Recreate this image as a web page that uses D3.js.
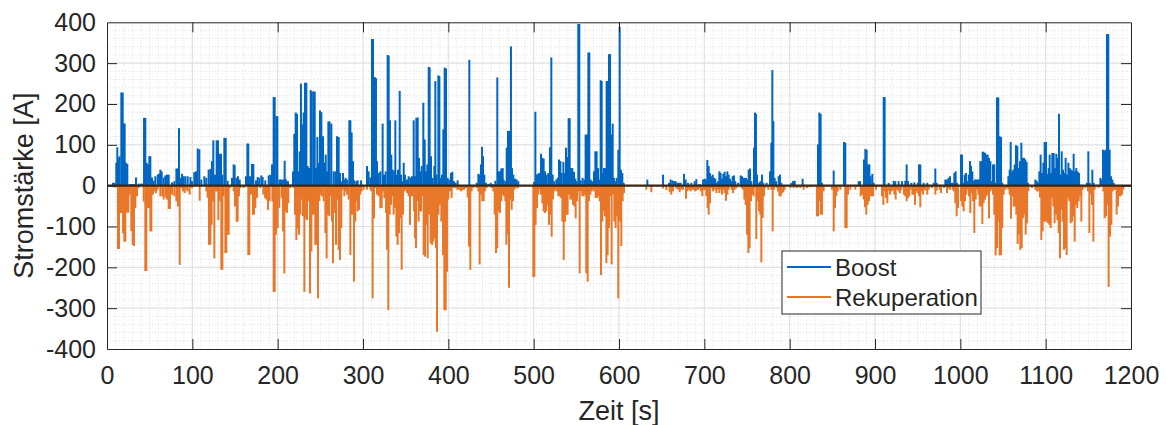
<!DOCTYPE html>
<html>
<head>
<meta charset="utf-8">
<script src="https://cdn.jsdelivr.net/npm/d3@7"></script>
<style>
  body { margin: 0; background: #fff; }
  svg { display: block; }
  text { font-family: "Liberation Sans", Arial, Helvetica, sans-serif; fill: #262626; }
</style>
</head>
<body>
<svg id="chart" width="1166" height="425"></svg>
<script>
// Strommessung: [Zeit in s, Stromstärke in A]
const boost = [[7,7],[8.6,7],[10.9,56],[12.1,94],[13.7,68],[14.8,72],[16.8,228],[18.4,228],[19.5,152],[20.7,152],[22.3,56],[23.8,53],[26.6,4],[29.3,4],[31.3,4],[34,20],[37.1,5],[39.8,5],[42.2,5],[43.4,166],[44.9,166],[46.5,56],[48,52],[49.6,72],[50.8,72],[52.7,20],[54.7,12],[56.6,23],[59.4,27],[60.9,29],[62.5,39],[64.1,35],[66.4,20],[68.4,25],[70.3,27],[72.3,27],[76.2,8],[78.9,11],[81.3,42],[82.8,42],[84.4,141],[85.9,19],[87.9,29],[89.8,23],[91.8,23],[94.5,23],[97.7,21],[99.6,11],[102.3,33],[104.3,35],[106.3,91],[108.2,89],[110.5,15],[114.1,23],[116.4,19],[119.1,39],[121.1,41],[123,60],[124.6,111],[126.6,27],[128.5,111],[130.1,111],[132,78],[133.6,78],[135.2,27],[137.5,117],[139.1,117],[141.4,12],[146.5,19],[148.4,52],[149.6,50],[151.6,19],[153.5,23],[155.5,15],[162.9,23],[164.5,103],[165.6,103],[167.6,23],[169.9,53],[171.5,53],[174.6,13],[176.6,21],[178.5,19],[180.9,25],[182.4,21],[185.5,13],[189.5,25],[191.4,27],[193.4,52],[195.3,217],[196.5,217],[198.4,170],[199.6,170],[202,15],[203.9,15],[206.3,15],[208.2,61],[209.8,15],[212.1,11],[214.8,3],[218,35],[219.5,127],[221.1,179],[222.7,176],[224.2,35],[225.8,84],[227.3,250],[228.9,150],[230.5,179],[232,252],[233.6,252],[235.2,48],[236.7,43],[238.7,234],[239.8,230],[241.8,231],[243.4,230],[244.9,43],[246.5,119],[248,56],[249.6,184],[251.2,180],[253.1,121],[254.7,56],[256.3,76],[257.8,35],[259.4,157],[260.9,157],[262.9,152],[264.1,2],[265.6,35],[267.6,35],[269.5,121],[271.5,119],[273,31],[274.6,11],[276.6,31],[278.1,15],[279.7,19],[281.6,15],[284,160],[285.2,160],[286.7,130],[288.3,60],[289.8,13],[292.2,11],[293.8,13],[295.7,2],[297.7,13],[299.2,2],[304.7,48],[306.6,35],[308.6,20],[310.5,359],[311.7,359],[313.7,266],[315.2,263],[316.4,60],[318.4,31],[320.3,35],[323,152],[324.6,27],[326.6,35],[328.9,320],[330.1,318],[331.6,160],[333.2,76],[334.8,39],[336.7,37],[337.9,160],[339.1,27],[341,39],[343,232],[344.5,27],[346.1,11],[347.7,56],[349.2,27],[351.6,15],[353.5,23],[355.5,20],[357.4,23],[359.4,160],[360.9,23],[362.5,166],[364.1,167],[365.6,68],[367.2,35],[368.8,48],[370.7,203],[372.3,113],[373.8,35],[375.4,52],[377,291],[378.1,289],[379.7,72],[381.6,19],[383.6,48],[384.8,256],[386.3,27],[388.3,270],[389.5,268],[391,19],[392.6,27],[394.1,138],[395.7,289],[397.3,287],[399.2,19],[401.2,15],[403.1,31],[404.7,34],[406.6,11],[408.6,7],[410.9,13],[412.9,2],[424.6,308],[426.2,2],[433.2,7],[435.2,29],[436.7,27],[438.3,52],[439.5,95],[440.6,72],[442.2,27],[444.1,7],[446.9,4],[449.6,7],[452,4],[455.1,12],[457.4,265],[458.6,35],[460.5,35],[462.1,42],[463.7,43],[464.8,15],[466.8,11],[468.4,93],[469.9,134],[471.5,134],[473.4,341],[474.6,43],[476.2,27],[478.1,17],[480.1,15],[482,11],[500.4,9],[502,181],[503.5,27],[505.1,29],[506.6,31],[508.6,78],[510.2,68],[511.7,66],[513.3,35],[515.2,27],[517.2,31],[519.1,94],[520.7,314],[522.3,27],[524.2,11],[526.6,15],[528.1,19],[529.7,64],[531.3,60],[532.8,31],[534.8,58],[536.3,31],[537.9,93],[539.5,70],[541,165],[542.2,165],[543.8,43],[545.3,43],[547.3,34],[548.8,17],[550.4,11],[552.3,396],[553.5,396],[555.1,13],[557.4,19],[559.4,15],[560.9,125],[562.5,125],[564.1,326],[565.2,326],[566.8,15],[568.4,11],[570.7,35],[572.3,84],[573.8,84],[575.4,43],[577,15],[578.5,258],[579.7,256],[580.9,31],[582.4,43],[584,43],[585.5,256],[586.7,256],[588.3,322],[589.5,322],[591,125],[592.6,152],[594.1,19],[595.7,11],[597.3,19],[599.2,88],[600.8,389],[602.3,39],[603.9,31],[605.5,7],[633.2,15],[651.6,27],[658.6,7],[660.5,15],[662.5,13],[664.5,11],[666.4,11],[668.4,7],[670.3,7],[672.3,7],[676.2,29],[678.1,15],[680.9,7],[684.8,7],[688.7,11],[690.6,16],[694.5,4],[698.4,15],[700.4,17],[702,15],[703.5,63],[705.1,48],[706.6,31],[708.2,23],[709.8,27],[711.3,19],[712.9,17],[714.5,7],[716,11],[717.6,35],[719.1,31],[720.7,17],[722.3,29],[723.8,34],[725.4,23],[727,35],[728.5,27],[730.1,17],[731.6,11],[733.2,23],[734.8,25],[736.3,11],[739.5,7],[742.6,25],[744.1,23],[745.7,19],[747.3,19],[748.8,19],[750.4,15],[752,39],[753.5,42],[755.1,11],[758.2,93],[759.4,179],[760.5,176],[761.7,27],[764.1,7],[765.6,11],[767.6,27],[769.1,7],[773,7],[777,35],[778.5,105],[779.7,283],[780.9,158],[782.4,19],[784,11],[787.1,23],[788.7,27],[790.2,7],[802,7],[803.9,11],[805.9,12],[815.2,17],[833.2,101],[834.8,179],[836.3,176],[837.9,7],[851.6,37],[863.7,107],[865.2,105],[880.9,11],[882.4,11],[887.1,64],[888.7,90],[890.2,88],[891.8,52],[893.4,52],[894.9,23],[896.9,29],[898.4,7],[910.2,217],[911.3,217],[916,7],[921.9,12],[923.8,11],[927.7,11],[931.6,11],[935.5,12],[937.1,52],[938.7,11],[942.6,7],[946.1,8],[950,7],[951.6,52],[953.1,52],[957,7],[961.3,7],[968.8,7],[970.7,42],[972.3,7],[982.4,15],[984.4,15],[986.3,19],[987.9,23],[989.5,7],[991.4,7],[993,31],[994.5,35],[996.1,7],[1000.8,76],[1002,76],[1003.5,7],[1005.1,27],[1006.6,31],[1008.2,11],[1009.8,27],[1011.3,60],[1012.5,48],[1014.1,35],[1015.6,12],[1017.2,15],[1018.8,15],[1020.3,15],[1021.9,15],[1023.4,60],[1024.6,60],[1026.2,83],[1027.3,83],[1028.9,80],[1030.5,76],[1032,76],[1033.6,68],[1035.2,60],[1036.7,11],[1038.3,52],[1039.8,52],[1041.4,7],[1043,216],[1044.5,216],[1046.1,121],[1047.7,119],[1049.2,7],[1052.7,2],[1056.3,23],[1057.8,39],[1059,107],[1060.5,35],[1062.1,39],[1063.7,52],[1065.2,99],[1066.8,97],[1068.4,43],[1069.9,60],[1071.5,105],[1073,68],[1074.6,68],[1076.2,64],[1077.7,58],[1079.3,7],[1087.9,15],[1089.5,12],[1091,7],[1092.6,35],[1094.1,76],[1095.7,31],[1097.3,56],[1098.8,107],[1100.4,107],[1102,29],[1103.5,43],[1104.7,76],[1106.3,31],[1107.8,80],[1109.4,80],[1110.9,43],[1112.5,78],[1114.1,68],[1115.6,176],[1117.2,27],[1118.8,84],[1120.3,39],[1121.9,31],[1123.4,68],[1125,27],[1126.6,56],[1128.1,43],[1129.7,39],[1131.3,37],[1132.8,78],[1134.4,35],[1135.9,43],[1137.5,35],[1139.1,31],[1140.6,2],[1148.4,7],[1150,84],[1151.6,7],[1154.7,39],[1156.3,7],[1164.1,19],[1165.6,15],[1167.2,88],[1168.8,86],[1170.3,88],[1171.9,371],[1173.4,371],[1175,88],[1176.6,23],[1178.1,15],[1179.7,7]];

const rekuperation = [[7.8,-4],[9.4,-4],[10.9,-4],[12.9,-155],[14.1,-155],[15.6,-67],[17.2,-67],[18.8,-116],[20.3,-137],[21.5,-137],[23.4,-66],[25,-66],[26.6,-22],[28.5,-111],[30.1,-145],[31.6,-148],[33.2,-55],[35.2,-26],[37.1,-6],[43,-39],[44.9,-209],[46.1,-209],[47.7,-55],[49.2,-55],[50.8,-112],[52,-112],[53.9,-22],[55.5,-14],[57.4,-18],[59.4,-10],[62.5,-26],[64.8,-26],[66.4,-34],[68.8,-29],[70.3,-34],[72.3,-57],[73.8,-57],[76.2,-22],[78.9,-26],[81.3,-38],[83.2,-51],[85.2,-194],[86.7,-6],[89.1,-14],[91,-18],[93,-10],[94.5,-14],[96.9,-22],[99.6,-6],[103.5,-2],[108.6,-37],[110.2,-2],[116.4,-14],[118,-30],[119.5,-145],[121.1,-145],[122.7,-96],[124.2,-38],[125.8,-178],[127.3,-14],[128.9,-14],[130.5,-84],[132,-38],[134,-206],[135.2,-206],[136.7,-26],[138.7,-165],[139.8,-165],[141.4,-120],[142.6,-120],[144.5,-6],[148.4,-14],[150,-51],[152,-88],[153.1,-88],[154.7,-26],[156.3,-6],[160.2,-6],[165.6,-170],[166.8,-170],[168.8,-22],[171.1,-71],[172.3,-71],[173.8,-55],[175.8,-30],[179.7,-6],[183.2,-22],[185.2,-30],[186.7,-34],[188.7,-59],[190.6,-38],[193.8,-38],[195.3,-260],[196.5,-260],[198,-120],[200,-104],[201.9,-55],[204.7,-30],[206.3,-112],[207.8,-215],[209.4,-63],[210.9,-67],[212.5,-43],[214.8,-6],[218.8,-6],[220.3,-71],[221.9,-133],[223.4,-104],[225,-120],[226.6,-71],[228.5,-34],[229.7,-75],[231.3,-260],[232.8,-80],[234.4,-84],[235.9,-38],[237.9,-264],[239.5,-161],[241,-71],[242.6,-71],[244.1,-145],[245.7,-145],[247.3,-276],[248.8,-38],[250.4,-22],[252,-26],[253.9,-38],[255.9,-116],[257.4,-178],[259,-71],[260.5,-75],[262.1,-26],[263.7,-88],[264.8,-190],[266.4,-67],[268.4,-145],[269.9,-34],[271.5,-157],[273,-182],[274.6,-104],[276.2,-10],[278.1,-26],[279.7,-14],[281.3,-22],[283.2,-34],[285.2,-170],[286.7,-71],[288.3,-71],[289.5,-235],[291,-88],[292.2,-38],[293.8,-63],[295.3,-59],[296.9,-22],[298.4,-14],[300.8,-10],[304.7,-10],[308.6,-10],[309.8,-14],[311.3,-276],[312.9,-80],[314.8,-6],[316.4,-22],[318.4,-26],[320.3,-55],[321.9,-55],[323.4,-14],[325,-30],[327,-67],[328.1,-157],[329.7,-305],[331.3,-71],[332.8,-47],[334.4,-26],[335.9,-71],[337.5,-55],[339.1,-125],[340.6,-145],[342.2,-116],[343.8,-80],[345.3,-206],[346.9,-71],[348.4,-14],[350,-10],[351.6,-18],[353.5,-26],[355.1,-96],[356.6,-26],[358.2,-26],[359.8,-63],[360.9,-129],[362.1,-153],[363.7,-38],[365.2,-88],[366.8,-63],[368,-63],[369.5,-26],[371.1,-170],[372.7,-174],[374.2,-96],[375.8,-178],[377.3,-71],[379.3,-141],[380.9,-145],[382.4,-137],[384,-129],[385.5,-153],[386.7,-358],[388.3,-71],[390.2,-47],[391.8,-88],[393.8,-170],[395.3,-305],[396.9,-305],[398.4,-211],[400,-34],[402,-14],[403.9,-30],[405.9,-6],[408.6,-6],[410.5,-10],[412.5,-10],[414.8,-14],[416.4,-11],[418.4,-10],[420.7,-6],[422.7,-29],[424.2,-149],[425.8,-206],[427.3,-14],[429.3,-6],[433.2,-6],[435.2,-14],[436.7,-193],[438.3,-22],[439.8,-38],[441.4,-38],[443,-14],[444.9,-6],[450.8,-6],[452.7,-14],[454.3,-71],[455.9,-165],[457.4,-153],[459,-63],[460.5,-67],[462.1,-38],[463.7,-22],[465.2,-26],[466.8,-38],[468,-145],[469.5,-120],[471.1,-250],[472.7,-34],[474.2,-59],[475.8,-38],[477.3,-10],[478.9,-6],[481.3,-7],[499.6,-224],[500.8,-223],[502.3,-96],[503.9,-55],[505.5,-22],[507,-10],[508.6,-22],[510.2,-43],[511.7,-63],[513.3,-67],[514.8,-63],[516.4,-47],[518,-96],[519.5,-71],[521.1,-125],[522.7,-34],[524.2,-14],[525.8,-10],[527.3,-14],[528.9,-26],[530.5,-26],[532,-30],[533.6,-88],[535.2,-182],[536.7,-88],[538.3,-71],[539.8,-71],[541.4,-22],[543,-34],[544.5,-34],[546.1,-47],[547.7,-51],[549.2,-80],[550.8,-38],[552.3,-14],[553.9,-215],[555.5,-14],[557,-26],[558.6,-26],[560.2,-22],[561.7,-215],[563.3,-235],[564.8,-38],[566.4,-22],[568,-14],[569.5,-10],[571.1,-14],[572.7,-30],[574.2,-30],[575.8,-26],[577.3,-38],[578.9,-219],[580.5,-88],[582,-63],[583.6,-75],[585.2,-190],[586.7,-170],[588.3,-104],[589.8,-26],[591.4,-193],[593,-22],[594.5,-88],[596.1,-104],[597.7,-75],[599.2,-276],[601.2,-88],[602.7,-148],[604.3,-38],[605.9,-18],[632,-10],[637.9,-16],[651.6,-7],[655.5,-11],[659.4,-16],[661.3,-22],[663.3,-14],[667.2,-7],[669.1,-10],[671.1,-16],[673,-10],[675,-10],[678.5,-32],[680.1,-14],[682,-10],[684,-14],[685.5,-10],[687.5,-10],[689.1,-14],[690.6,-12],[692.6,-10],[694.5,-7],[696.1,-14],[697.7,-26],[699.2,-10],[700.8,-10],[702.3,-26],[703.9,-55],[705.1,-71],[706.6,-43],[708.2,-6],[710.2,-14],[712.1,-10],[714.1,-18],[716,-10],[717.6,-18],[719.1,-10],[720.7,-22],[722.3,-10],[723.8,-18],[725.4,-37],[727,-22],[728.5,-10],[732,-10],[733.6,-18],[735.5,-10],[737.5,-7],[743.4,-6],[745.3,-10],[746.9,-34],[748.4,-47],[750,-120],[751.6,-165],[753.1,-153],[754.7,-38],[756.3,-22],[757.8,-26],[759.4,-6],[760.9,-131],[762.5,-38],[764.1,-63],[765.6,-71],[766.8,-188],[768.4,-79],[769.9,-26],[771.5,-6],[775,-10],[778.5,-10],[780.1,-112],[781.6,-10],[784.8,-6],[786.3,-14],[787.9,-26],[789.5,-26],[791,-18],[792.6,-16],[794.1,-10],[800.8,-6],[804.7,-6],[808.6,-6],[812.5,-6],[816.4,-10],[820.3,-6],[824.2,-4],[832,-75],[833.2,-75],[834.8,-38],[836.3,-71],[837.9,-71],[839.8,-14],[849.6,-10],[851.6,-112],[853.1,-55],[854.7,-26],[856.3,-14],[859.4,-10],[865.2,-104],[866.8,-104],[868.4,-22],[871.1,-10],[877,-10],[883.2,-26],[884.8,-22],[886.7,-34],[888.3,-53],[889.8,-71],[891.4,-47],[893,-38],[894.5,-26],[896.1,-26],[897.7,-26],[901.2,-10],[908.2,-26],[909.8,-47],[911.3,-14],[912.9,-30],[914.5,-43],[916,-12],[917.6,-22],[919.1,-14],[920.7,-12],[922.7,-22],[924.2,-34],[925.8,-10],[927.7,-14],[929.3,-18],[930.9,-10],[934,-22],[935.5,-26],[937.1,-38],[938.7,-30],[940.2,-26],[941.8,-10],[943.8,-22],[945.3,-22],[946.9,-47],[948.4,-14],[950,-18],[951.6,-26],[953.1,-53],[954.7,-14],[956.3,-22],[957.8,-10],[959.4,-12],[961.3,-22],[962.9,-10],[966.8,-6],[970.7,-22],[972.3,-12],[975.8,-10],[977.3,-18],[980.9,-6],[984.4,-18],[986.3,-7],[987.9,-10],[991,-10],[992.6,-14],[994.1,-43],[995.7,-75],[997.3,-55],[1000.8,-38],[1002.3,-51],[1003.9,-63],[1005.5,-38],[1007,-22],[1008.6,-10],[1010.2,-26],[1011.7,-67],[1013.3,-18],[1014.8,-38],[1016.4,-116],[1018,-34],[1019.5,-10],[1021.1,-22],[1022.7,-51],[1024.2,-51],[1025.8,-94],[1027.3,-43],[1028.9,-34],[1030.5,-26],[1032,-22],[1033.6,-80],[1035.2,-14],[1036.7,-10],[1038.3,-22],[1039.8,-71],[1041.4,-171],[1043,-153],[1044.5,-88],[1046.1,-171],[1047.7,-170],[1049.2,-104],[1050.8,-22],[1052.7,-10],[1054.7,-6],[1056.3,-10],[1057.8,-22],[1059.4,-81],[1060.9,-26],[1062.5,-51],[1064.1,-51],[1065.6,-71],[1067.2,-143],[1068.8,-119],[1070.3,-157],[1071.9,-153],[1073.4,-80],[1075,-71],[1076.6,-120],[1078.1,-92],[1079.7,-14],[1084,-6],[1087.9,-10],[1089.8,-14],[1091.8,-14],[1093.4,-29],[1094.9,-133],[1096.5,-112],[1098,-88],[1099.6,-88],[1101.2,-88],[1102.7,-92],[1104.3,-96],[1105.9,-104],[1107.4,-30],[1109,-51],[1110.5,-92],[1112.1,-71],[1113.7,-84],[1115.2,-116],[1116.8,-178],[1118.4,-59],[1119.9,-88],[1121.5,-157],[1123,-153],[1124.6,-170],[1126.2,-30],[1127.7,-38],[1129.3,-92],[1130.9,-88],[1132.4,-75],[1134,-137],[1135.5,-47],[1137.1,-55],[1138.7,-38],[1140.2,-26],[1141.8,-88],[1143.4,-10],[1146.5,-6],[1149.6,-14],[1151.2,-116],[1152.7,-22],[1154.3,-47],[1155.9,-137],[1157.4,-10],[1162.1,-6],[1167.6,-14],[1169.1,-80],[1170.7,-75],[1172.3,-47],[1173.8,-248],[1175.4,-125],[1177,-96],[1178.5,-14],[1180.1,-10],[1181.6,-10],[1183.2,-71],[1184.8,-51],[1186.3,-26],[1187.9,-26],[1189.5,-22],[1191,-10]];

const seriesNames = ["Boost", "Rekuperation"];
const seriesColors = ["#0066c2", "#e8772a"];
const xTicks = [0, 100, 200, 300, 400, 500, 600, 700, 800, 900, 1000, 1100, 1200];
const yTicks = [-400, -300, -200, -100, 0, 100, 200, 300, 400];
const xLabel = "Zeit [s]";
const yLabel = "Stromstärke [A]";

const svg = d3.select("#chart");
const plotLeft = 107, plotRight = 1131, plotTop = 22.3, plotBottom = 349;

const x = d3.scaleLinear().domain([0, 1200]).range([plotLeft, plotRight]);
const y = d3.scaleLinear().domain([-400, 400]).range([plotBottom, plotTop]);

// Nebengitter (gepunktet)
const grid = svg.append("g");
grid.selectAll("line.xminor")
  .data(d3.range(0, 1201, 10).filter(v => v % 100 !== 0))
  .join("line")
  .attr("x1", d => x(d)).attr("x2", d => x(d))
  .attr("y1", plotTop).attr("y2", plotBottom)
  .attr("stroke", "#d8d8d8").attr("stroke-width", 0.8)
  .attr("stroke-dasharray", "1,2");
grid.selectAll("line.yminor")
  .data(d3.range(-400, 401, 20).filter(v => v % 100 !== 0))
  .join("line")
  .attr("x1", plotLeft).attr("x2", plotRight)
  .attr("y1", d => y(d)).attr("y2", d => y(d))
  .attr("stroke", "#d8d8d8").attr("stroke-width", 0.8)
  .attr("stroke-dasharray", "1,2");

// Hauptgitter
grid.selectAll("line.xmajor")
  .data(xTicks.slice(1, -1))
  .join("line")
  .attr("x1", d => x(d)).attr("x2", d => x(d))
  .attr("y1", plotTop).attr("y2", plotBottom)
  .attr("stroke", "#e1e1e1").attr("stroke-width", 1.2);
grid.selectAll("line.ymajor")
  .data(yTicks.slice(1, -1))
  .join("line")
  .attr("x1", plotLeft).attr("x2", plotRight)
  .attr("y1", d => y(d)).attr("y2", d => y(d))
  .attr("stroke", "#e1e1e1").attr("stroke-width", 1.2);

// Messreihen als senkrechte Ausschläge von der Nulllinie
const series = [boost, rekuperation];
series.forEach((data, i) => {
  svg.append("g")
    .selectAll("line")
    .data(data)
    .join("line")
    .attr("x1", d => x(d[0])).attr("x2", d => x(d[0]))
    .attr("y1", y(0)).attr("y2", d => y(d[1]))
    .attr("stroke", seriesColors[i])
    .attr("stroke-width", 2);
});

// Nulllinie
svg.append("line")
  .attr("x1", x(0)).attr("x2", x(1200))
  .attr("y1", y(0)).attr("y2", y(0))
  .attr("stroke", "#3a2614").attr("stroke-width", 2.4);

// Achsen mit nach innen zeigenden Ticks
const tickLen = 10;
const plain = d => String(d);
const axisB = svg.append("g").attr("transform", `translate(0,${plotBottom})`)
  .call(d3.axisBottom(x).tickValues(xTicks).tickFormat(plain).tickSizeInner(-tickLen).tickSizeOuter(0).tickPadding(17));
const axisT = svg.append("g").attr("transform", `translate(0,${plotTop})`)
  .call(d3.axisTop(x).tickValues(xTicks).tickSizeInner(-tickLen).tickSizeOuter(0).tickFormat(""));
const axisL = svg.append("g").attr("transform", `translate(${plotLeft},0)`)
  .call(d3.axisLeft(y).tickValues(yTicks).tickFormat(plain).tickSizeInner(-tickLen).tickSizeOuter(0).tickPadding(11));
const axisR = svg.append("g").attr("transform", `translate(${plotRight},0)`)
  .call(d3.axisRight(y).tickValues(yTicks).tickSizeInner(-tickLen).tickSizeOuter(0).tickFormat(""));

[axisB, axisT, axisL, axisR].forEach(a => {
  a.select(".domain").attr("stroke", "#262626").attr("stroke-width", 1);
  a.selectAll(".tick line").attr("stroke", "#262626").attr("stroke-width", 1);
  a.selectAll(".tick text")
    .attr("fill", "#262626")
    .style("font-family", '"Liberation Sans", Arial, sans-serif')
    .style("font-size", "25px");
});
// Randticks liegen auf dem Rahmen
[axisB, axisT].forEach(a => a.selectAll(".tick line").filter(d => d === 0 || d === 1200).remove());
[axisL, axisR].forEach(a => a.selectAll(".tick line").filter(d => d === -400 || d === 400).remove());

// Achsentitel
svg.append("text")
  .attr("x", (plotLeft + plotRight) / 2).attr("y", 420)
  .attr("text-anchor", "middle")
  .style("font-size", "27px")
  .text(xLabel);
svg.append("text")
  .attr("transform", `translate(33,${(plotTop + plotBottom) / 2}) rotate(-90)`)
  .attr("text-anchor", "middle")
  .style("font-size", "27px")
  .text(yLabel);

// Legende
const legend = svg.append("g");
legend.append("rect")
  .attr("x", 782).attr("y", 251).attr("width", 199).attr("height", 63)
  .attr("fill", "#fff").attr("stroke", "#262626").attr("stroke-width", 1);
seriesNames.forEach((name, i) => {
  const ly = 267 + i * 30;
  legend.append("line")
    .attr("x1", 787).attr("x2", 831).attr("y1", ly).attr("y2", ly)
    .attr("stroke", seriesColors[i]).attr("stroke-width", 2);
  legend.append("text")
    .attr("x", 835).attr("y", ly + 8.5)
    .style("font-size", "24px")
    .text(name);
});
</script>
</body>
</html>
